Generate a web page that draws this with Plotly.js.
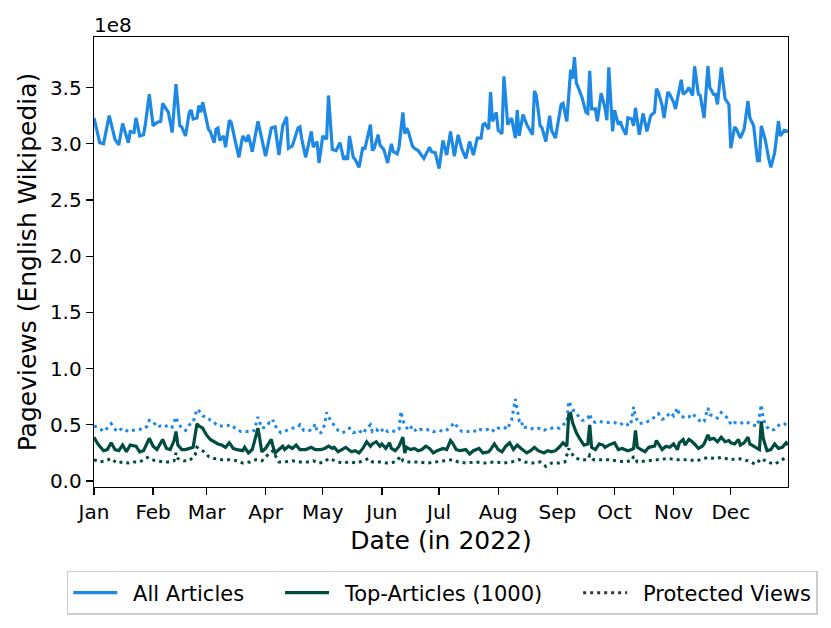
<!DOCTYPE html>
<html>
<head>
<meta charset="utf-8">
<script src="https://cdn.plot.ly/plotly-3.0.1.min.js"></script>
<style>html,body{margin:0;padding:0;background:#fff;}#chart{width:831px;height:628px;}</style>
</head>
<body>
<div id="chart"></div>
<script>
// Values in millions of pageviews; days counted from 2022-01-01
const allDays = [0,3,5,8,11,13,15,18,19,21,
 22,24,26,27,29,31,33,35,36,39,
 41,43,45,46,48,50,51,52,54,55,
 56,57,60,61,63,64,65,66,68,69,
 71,72,74,76,78,80,81,83,86,88,
 90,93,95,97,99,101,102,104,107,108,
 109,111,114,115,117,118,120,122,123,125,
 127,129,131,132,133,134,136,137,139,141,
 142,145,146,147,149,150,152,154,156,157,
 159,160,162,163,164,165,167,168,170,173,
 176,177,179,181,183,185,187,189,191,193,
 195,197,199,201,203,204,205,207,208,209,
 211,212,214,215,217,219,221,222,223,225,
 227,230,231,232,234,235,237,239,240,242,
 245,246,248,250,251,252,253,254,256,258,
 259,260,261,263,264,266,268,269,270,272,
 273,275,276,277,279,280,282,283,284,286,
 288,289,290,292,294,295,296,298,299,301,
 302,304,305,306,308,309,311,312,314,315,
 317,318,320,322,323,325,326,327,329,331,
 333,334,336,337,339,341,343,344,346,348,
 349,350,352,354,355,357,359,360,362,364];
const allVals = [323,301,300,325,304,299,318,301,311,310,
 323,307,308,318,344,316,319,320,336,328,
 310,353,316,315,307,328,330,322,323,334,
 328,337,313,311,301,313,314,303,307,297,
 321,319,303,288,307,302,308,293,320,306,
 289,314,315,290,316,324,296,298,314,315,
 304,288,311,297,302,283,307,304,343,295,
 294,301,286,288,286,307,288,286,279,297,
 295,317,294,296,308,299,295,283,300,293,
 291,297,328,309,314,310,298,296,294,287,
 297,293,292,278,303,290,311,289,308,295,
 287,302,290,305,305,317,318,313,346,320,
 328,312,309,360,317,323,305,330,307,326,
 317,308,347,343,316,314,302,325,312,305,
 335,336,320,366,358,377,354,350,341,328,
 327,365,331,331,320,345,332,321,368,311,
 330,317,320,315,308,323,322,316,332,308,
 327,319,311,325,328,349,346,334,323,346,
 344,337,331,340,357,344,347,350,343,369,
 344,343,323,369,350,344,344,335,368,340,
 335,296,315,313,305,313,338,323,316,285,
 285,316,304,286,279,292,320,307,312,311];

const protAllDays = [0,3,5,7,9,12,15,18,20,23,
 26,28,29,31,33,35,37,39,41,42,
 43,44,46,48,50,52,53,54,56,57,
 60,61,63,65,67,69,72,74,77,80,
 82,84,86,87,88,90,92,93,94,95,
 96,98,101,102,104,107,108,110,113,115,
 116,117,119,121,122,124,126,128,130,132,
 134,136,139,141,143,145,146,148,150,152,
 154,156,158,160,161,162,163,165,167,169,
 171,174,176,178,181,184,187,189,191,193,
 196,198,201,202,205,208,210,212,215,217,
 218,219,221,222,223,224,225,227,231,233,
 236,238,240,242,244,246,248,249,251,252,
 254,256,257,259,260,261,263,265,268,271,
 273,276,278,281,282,283,284,286,289,292,
 294,296,298,300,302,304,306,307,310,312,
 314,316,319,320,322,323,325,327,329,331,
 333,334,336,339,341,343,345,348,350,351,
 353,355,357,360,362,364];
const protAllVals = [49,47,44,47,51,44,47,44,45,46,
 46,49,54,53,48,49,48,50,48,52,
 57,52,47,45,50,52,58,64,61,58,
 56,54,52,49,49,49,50,47,44,44,
 44,45,57,52,47,48,52,51,54,50,
 46,43,45,46,47,48,50,45,45,47,
 51,44,43,50,61,54,50,45,43,44,
 47,43,45,42,47,50,44,46,43,47,
 44,45,44,46,62,54,50,45,49,44,
 46,45,46,44,45,44,48,52,47,44,
 44,45,44,46,45,47,44,47,48,46,
 51,54,73,62,54,55,47,48,46,47,
 45,47,47,48,47,50,52,71,64,61,
 58,54,54,56,60,54,52,53,52,52,
 52,50,52,49,54,66,57,51,52,54,
 57,60,55,56,61,58,65,59,56,57,
 60,56,52,53,65,59,58,56,61,58,
 55,50,52,51,53,52,50,49,68,55,
 48,45,46,51,51,49];

const topDays = [0,2,5,7,9,11,13,15,17,19,
 22,24,26,29,31,33,34,36,38,40,
 42,43,44,46,48,50,52,54,55,57,
 59,61,63,65,67,69,71,73,75,78,
 79,81,83,86,87,88,90,92,93,94,
 95,97,99,100,102,104,106,108,111,114,
 116,119,121,123,125,126,128,130,132,135,
 137,139,141,143,145,146,148,150,151,153,
 155,156,158,160,162,163,164,166,168,170,
 172,174,176,178,180,183,185,187,188,190,
 192,195,197,199,202,204,207,208,210,212,
 214,216,218,220,222,224,227,229,231,233,
 236,238,240,242,244,246,248,249,250,251,
 253,255,257,259,260,261,263,265,267,268,
 270,273,275,277,280,282,283,284,285,287,
 289,291,294,295,297,298,300,302,304,306,
 307,309,310,312,313,315,317,319,320,322,
 323,325,327,329,331,333,334,336,338,339,
 341,343,344,347,349,350,351,353,355,357,
 359,361,363,364];
const topVals = [39,33,27,28,34,28,27,32,26,32,
 31,26,27,38,31,28,31,37,29,28,
 36,44,32,28,28,29,30,51,49,47,
 41,37,35,33,32,30,34,29,28,27,
 30,25,28,47,37,26,29,35,37,30,
 25,28,31,28,31,29,32,28,28,30,
 28,28,29,31,29,30,26,28,30,26,
 27,25,29,35,31,33,35,31,33,29,
 34,29,27,31,39,25,30,28,29,27,
 28,31,29,25,27,29,28,36,34,28,
 27,28,24,27,29,25,26,28,33,28,
 26,31,34,28,32,29,25,27,30,27,
 25,27,26,27,30,34,31,59,60,52,
 43,37,32,33,50,30,28,33,32,30,
 32,34,28,29,27,28,29,45,30,28,
 26,30,31,36,31,28,31,30,33,28,
 34,37,32,37,36,33,29,31,33,41,
 37,38,35,39,35,36,34,33,37,32,
 34,39,33,30,28,53,38,27,28,33,
 29,30,34,32];

const protTopDays = [0,3,6,9,12,15,18,21,24,28,
 30,33,36,40,42,43,44,47,50,53,
 54,57,60,63,67,71,75,78,82,85,
 88,90,92,94,95,97,100,104,108,112,
 115,118,121,123,126,130,134,138,141,144,
 146,150,154,158,161,162,165,170,175,180,
 185,188,191,195,200,205,210,215,219,223,
 226,230,234,237,240,244,247,249,250,252,
 255,259,260,262,266,270,274,278,282,283,
 285,290,295,301,306,311,316,322,326,329,
 334,338,343,347,350,353,357,360,363,364];
const protTopVals = [19,17,18,20,16,17,16,17,17,21,
 19,18,17,17,18,25,20,18,18,23,
 30,27,22,20,19,19,18,16,17,19,
 18,21,25,27,23,17,17,18,17,17,
 18,16,17,20,18,16,17,16,18,20,
 17,17,16,17,22,18,17,17,16,17,
 18,19,17,16,17,16,17,16,17,19,
 17,16,17,13,16,16,17,29,26,21,
 19,19,23,19,19,19,18,17,18,22,
 17,18,19,20,19,19,18,21,20,21,
 19,20,18,15,20,17,15,18,21,20];

const yTickVals = [0, 0.5, 1.0, 1.5, 2.0, 2.5, 3.0, 3.5];
const yTickText = ["0.0","0.5","1.0","1.5","2.0","2.5","3.0","3.5"];
const seriesNames = ["All Articles", "Top-Articles (1000)", "Protected Views"];

const BLUE = '#1E88E5', GREEN = '#004D40', GREY = '#333333';
const FONT = 'DejaVu Sans, sans-serif';
const LEAD = '\u00A0\u2009', TRAIL = '\u00A0\u00A0\u00A0\u00A0\u2009';

function toDate(d) {
  return new Date(Date.UTC(2022, 0, 1) + d * 86400000).toISOString().slice(0, 10);
}
const dates = arr => arr.map(toDate);
const scale = arr => arr.map(v => v * 1e6);

const traces = [
  {x: dates(protTopDays), y: scale(protTopVals), type: 'scatter', mode: 'lines',
   line: {color: GREEN, width: 3, dash: '3px,4px'}, showlegend: false, hoverinfo: 'skip'},
  {x: dates(protAllDays), y: scale(protAllVals), type: 'scatter', mode: 'lines',
   line: {color: BLUE, width: 3, dash: '3px,4px'}, showlegend: false, hoverinfo: 'skip'},
  {x: dates(allDays), y: scale(allVals), type: 'scatter', mode: 'lines', name: LEAD + seriesNames[0] + TRAIL,
   line: {color: BLUE, width: 3.2}},
  {x: dates(topDays), y: scale(topVals), type: 'scatter', mode: 'lines', name: LEAD + seriesNames[1] + TRAIL,
   line: {color: GREEN, width: 3.2}},
  {x: [null], y: [null], type: 'scatter', mode: 'lines', name: LEAD + seriesNames[2],
   line: {color: GREY, width: 3, dash: '3px,4px'}}
];

const layout = {
  width: 831, height: 628,
  margin: {l: 94, r: 43, t: 37, b: 141},
  paper_bgcolor: '#fff', plot_bgcolor: '#fff',
  font: {family: FONT, size: 20, color: '#000'},
  showlegend: true,
  legend: {
    orientation: 'h', x: -0.0393, xref: 'paper', xanchor: 'left',
    y: -0.2844, yref: 'paper', yanchor: 'bottom',
    bordercolor: '#cccccc', borderwidth: 1.5, bgcolor: '#fff',
    font: {family: FONT, size: 21, color: '#000'}, itemwidth: 44,
    traceorder: 'normal'
  },
  xaxis: {
    type: 'date', range: ['2022-01-01', '2022-12-31'],
    tick0: '2022-01-01', dtick: 'M1', tickformat: '%b',
    showgrid: false, zeroline: false,
    showline: true, mirror: true, linecolor: '#000', linewidth: 1.3,
    ticks: 'outside', ticklen: 7, tickwidth: 1.3, tickcolor: '#000',
    tickfont: {family: FONT, size: 20, color: '#000'},
    title: {text: 'Date (in 2022)', font: {family: FONT, size: 25, color: '#000'}, standoff: 8}
  },
  yaxis: {
    range: [-0.053e8, 3.95e8],
    tickvals: yTickVals.map(v => v * 1e8), ticktext: yTickText,
    showgrid: false, zeroline: false,
    showline: true, mirror: true, linecolor: '#000', linewidth: 1.3,
    ticks: 'outside', ticklen: 7, tickwidth: 1.3, tickcolor: '#000',
    tickfont: {family: FONT, size: 20, color: '#000'},
    title: {text: 'Pageviews (English Wikipedia)', font: {family: FONT, size: 25, color: '#000'}, standoff: 6}
  },
  annotations: [{
    text: '1e8', xref: 'paper', yref: 'paper', x: 0, y: 1,
    xanchor: 'left', yanchor: 'bottom', showarrow: false, yshift: -2, xshift: -2,
    font: {family: FONT, size: 20, color: '#000'}
  }]
};

Plotly.newPlot('chart', traces, layout, {staticPlot: true, displayModeBar: false});
</script>
</body>
</html>
